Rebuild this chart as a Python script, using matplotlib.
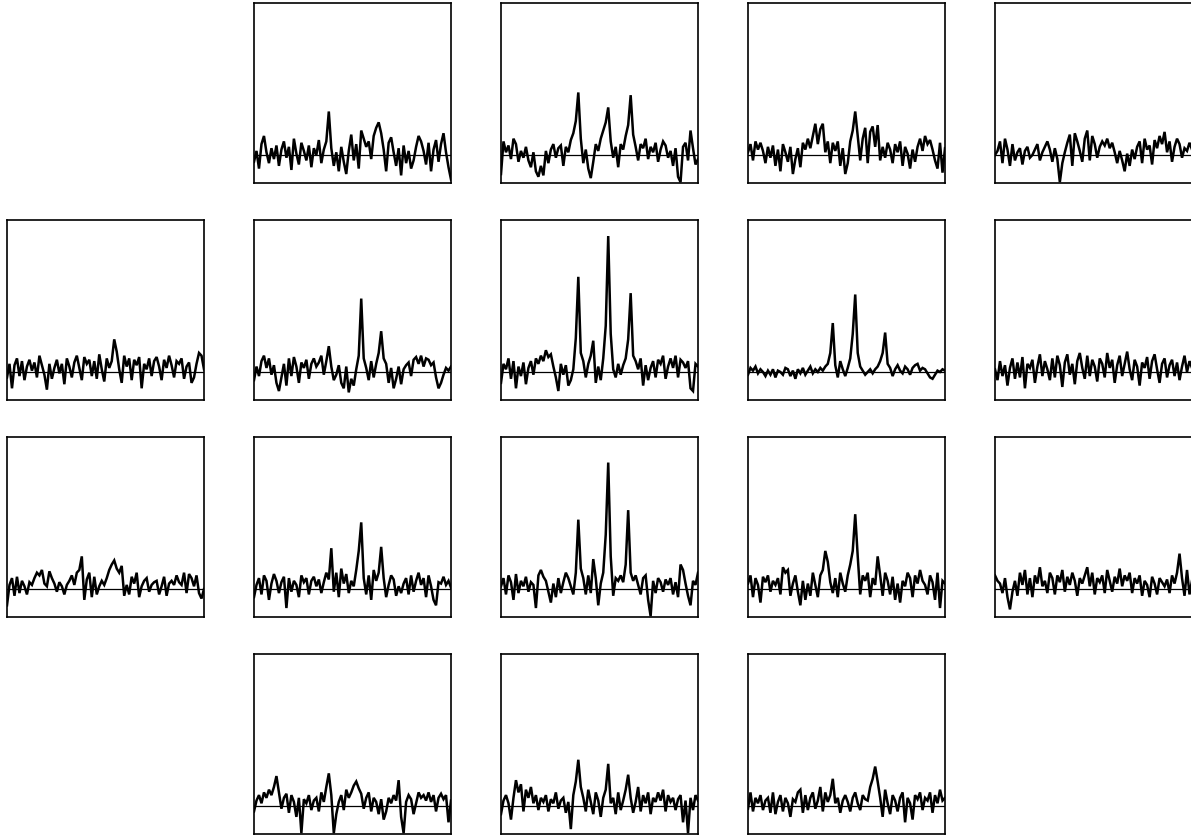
import numpy as np
import matplotlib
matplotlib.use("Agg")
import matplotlib.pyplot as plt

# grid slots (row, col) that hold a spectrum
slots = [(0, 1), (0, 2), (0, 3), (0, 4),
         (1, 0), (1, 1), (1, 2), (1, 3), (1, 4),
         (2, 0), (2, 1), (2, 2), (2, 3), (2, 4),
         (3, 1), (3, 2), (3, 3)]

# spectra (intensity, arbitrary units; 100 = strongest peak)
p01 = [-5, 3, -10, 8, 14, 2, -6, 5, -3, 7, -8, 4, 10, -2, 6, -11, 12, 1, -7, 9,
       3, -4, 7, -9, 5, 0, 11, -6, 4, 10, 32, 5, -8, 2, -12, 6, -5, -14, 3, 15,
       -4, 8, -10, 18, 12, 6, 10, -3, 14, 20, 24, 16, 4, -12, 9, 13, 2, -8, 5, -15,
       7, -6, 3, -10, -4, 6, 14, 10, 3, -7, 9, -12, 4, 11, -5, 8, 16, 2, -9, -18]
p02 = [-14, 10, 2, 7, -3, 12, 8, -5, 3, -2, 6, -4, -9, 2, -12, -16, -8, -15, 3, -6,
       4, 8, -2, 5, 7, -8, 6, 2, 11, 16, 25, 46, 12, -6, 4, -10, -17, -5, 8, 3,
       12, 18, 24, 35, 10, -2, 6, -9, 8, 4, 14, 22, 44, 15, 6, -4, 8, 5, 12, -3,
       6, 2, 9, -5, 4, 10, 7, -2, 3, -8, 5, -16, -20, 6, 9, -4, 18, 5, -7, -3]
p03 = [2, 8, -4, 10, 4, 9, 3, -6, 6, -2, 7, -8, 4, -12, 8, 2, -5, 6, -14, -3,
       5, -9, 9, 4, 12, 5, 14, 23, 8, 19, 23, 2, 10, -6, 9, 3, 10, -8, 5, -14,
       -6, 10, 18, 32, 14, -4, 12, 20, -6, 17, 21, 6, 22, -4, 6, -2, 9, 4, -6, 8,
       2, 10, -8, 6, 1, -10, 4, -5, 6, 12, 3, 14, 8, 11, 4, -4, -10, 9, -13, 5]
p04 = [0, 3, 10, -6, 12, 4, -8, 8, -4, 2, 5, -7, 3, 6, -2, 0, 4, 8, -4, 2,
       6, 10, 4, -5, 5, -3, -20, -6, 2, 9, 15, -8, 16, 10, 3, -5, 12, 18, -4, 14,
       8, -2, 6, 10, 7, 12, 5, 9, 2, -6, 3, -4, -12, 1, -8, 4, -3, 6, 10, -6,
       12, 4, 7, -7, 11, 5, 14, 8, 17, 2, 10, -5, 6, 12, 8, -2, 5, 3, 9, 4]
p10 = [-4, 6, -12, 5, 10, -3, 8, -6, 4, 9, 1, 7, -4, 12, 5, -2, -13, 6, -5, 3,
       9, -1, 6, -9, 10, 4, -4, 7, 12, 3, -6, 11, 6, 9, -3, 8, -5, 13, 2, -7,
       10, 3, 8, 24, 15, 2, -8, 12, 4, 10, -6, 9, 5, 11, -12, 6, 2, 10, -3, 8,
       11, 4, -6, 9, 3, 12, 5, -4, 8, 6, 10, -5, 4, 7, -8, -4, 6, 14, 12, 2]
p11 = [-6, 4, -3, 8, 12, 3, 10, -2, 5, -8, -14, -4, 6, -10, 10, -3, 11, 4, -8, 7,
       3, 9, -5, 6, 10, 4, 7, 12, -2, 8, 19, 4, -6, -2, 5, -8, -12, 4, -15, -5,
       -10, 2, 12, 54, 10, 3, -6, 8, -4, 6, 14, 30, 10, 6, -8, 3, -12, -5, 4, -9,
       2, 5, 7, -3, 9, 11, 6, 12, 4, 10, 9, 5, 7, -4, -12, -8, -2, 3, 1, 4]
p12 = [-8, 6, 2, 10, -5, 8, -12, 4, -3, 7, -9, 3, 8, -2, 10, 6, 12, 8, 16, 11,
       13, 4, -4, -14, 6, -2, 5, -10, -6, 2, 25, 70, 14, 8, -4, 6, 12, 23, -8, 4,
       -6, 10, 34, 100, 28, 2, -4, 6, -2, 5, 10, 24, 58, 12, 8, 2, 10, -10, 5, -6,
       3, 8, -4, 9, 6, 12, -5, 4, 10, 3, 12, -4, 9, 7, 3, 8, -12, -14, 6, 4]
p13 = [-2, 3, 1, 4, -1, 2, 0, -3, 1, -2, 2, -4, 1, 0, -2, 3, 2, -3, 1, -5,
       2, -1, 3, -2, 1, 4, -1, 2, 0, 3, 1, 4, 6, 14, 36, 5, -4, 8, 2, -3,
       3, 10, 28, 57, 14, 4, 1, -2, 0, 2, -1, 2, 4, 8, 14, 29, 6, 3, -3, 2,
       5, 1, -1, 4, 2, -2, 3, 5, 6, 1, 3, 2, -1, -4, -5, -2, 1, 0, 2, 1]
p14 = [2, -6, 8, -3, 5, -10, 3, 10, -5, 7, -4, 11, -12, 6, 3, 9, -8, 4, 13, -3,
       8, 2, -6, 10, -4, 12, 5, -11, 7, 13, -2, 6, -9, 8, 14, 3, -5, 12, -3, 9,
       4, -7, 10, 6, -4, 14, 3, 9, -8, 5, 12, -3, 6, 15, 2, -6, 9, 4, -10, 7,
       3, 11, -5, 8, 13, 2, -8, 6, 10, -4, 5, 9, -3, 7, -6, 4, 12, 0, 8, 3]
p20 = [-12, 3, 8, -5, 9, -3, 6, 2, -4, 5, 3, 8, 12, 10, 14, 4, 2, 13, 8, 4,
       -2, 5, 2, -4, 3, 6, 10, 3, 12, 14, 24, -8, 7, 12, -6, 9, -4, 2, 6, 3,
       8, 14, 18, 21, 15, 12, 17, -5, 3, -4, 9, 4, 12, -6, 2, 6, 8, -2, 3, 5,
       6, -4, 2, 9, -5, 4, 6, 3, 10, 5, 3, 12, -3, 11, 8, 2, 10, -3, -7, 0]
p21 = [-6, 3, 8, -4, 10, 6, -8, 4, 11, 6, -3, 5, 9, -14, 8, -2, 6, 3, -6, 10,
       5, 8, -4, 6, 9, 2, 7, -3, 5, 12, 7, 30, -2, 12, -6, 15, 4, 11, -3, 6,
       2, 14, 28, 49, 8, -4, 10, -8, 14, 6, 12, 31, 8, -6, 3, 10, 7, -5, 2, -3,
       4, 8, -4, 10, -2, 6, 12, 3, 8, -6, 10, 2, -8, -12, 5, 4, 9, 3, 6, 1]
p22 = [2, 8, -4, 10, 5, -8, 11, -3, 6, 2, 9, -2, 5, 3, -14, 10, 14, 9, 6, -2,
       -10, 4, -6, 8, -3, 5, 12, 8, 2, -4, 12, 51, 15, 8, -4, 10, -3, 22, 8, -12,
       4, 12, 40, 93, 24, -5, 8, 6, 10, 5, 18, 58, 12, 6, 10, 3, -4, 8, 10, -8,
       -20, 6, -3, 8, 5, -2, 7, 3, 8, -4, 5, -6, 18, 14, 4, -5, -12, 6, 3, 12]
p23 = [4, 10, -6, 8, 3, -10, 9, 5, 10, -2, 6, 3, 8, -4, 16, 12, 14, -5, 4, 10,
       -2, -12, 6, -8, 4, -5, 12, 3, -6, 10, 14, 28, 20, 5, -3, 8, -6, 12, 4, -2,
       10, 18, 28, 55, 24, -4, 10, 6, 12, -6, 8, 3, 24, 10, -5, 12, 6, -4, 9, -8,
       4, -10, 6, 2, 12, 8, -6, 10, 4, 14, 6, 3, -4, 10, 5, -8, 12, -14, 6, 4]
p24 = [10, 6, 4, -3, 8, -6, -15, -2, 6, -5, 12, 3, 14, -4, 8, -6, 10, 4, 16, 2,
       6, -3, 12, 8, -4, 10, 5, 14, -2, 9, 3, 12, 6, -5, 8, 4, 10, 16, 2, 12,
       -4, 8, 5, 10, -3, 14, 6, -2, 9, 4, 15, 2, 10, 6, 12, -3, 8, 4, 10, -5,
       6, 3, -6, 9, 4, -4, 8, 5, 2, 7, -3, 10, 4, 12, 26, 8, -5, 14, -4, 6]
p31 = [-4, 4, 8, 2, 10, 6, 12, 8, 14, 22, 10, -2, 6, 9, -5, 8, 3, -8, 6, -20,
       5, 2, 8, -3, 4, 6, -4, 10, 3, 14, 24, 8, -20, -6, 3, 8, -3, 12, 6, 10,
       15, 18, 13, 9, -2, 6, 10, -4, 6, 3, -6, 5, -10, -4, 6, 2, 8, 4, 19, -8,
       -20, 3, 8, 5, -6, 2, 10, 6, 8, 4, 10, 3, 8, -4, 6, 9, 5, 8, -12, 4]
p32 = [-6, 4, 8, 2, -10, 6, 19, 10, 16, -4, 12, 6, 14, 2, 8, -3, 6, 3, 8, -4,
       5, 2, 10, -2, 4, 6, -5, 3, -17, 8, 18, 34, 14, 6, -4, 12, 3, -6, 10, 4,
       -8, 6, 12, 31, 2, 6, -6, 10, -3, 4, 12, 23, 6, -5, 3, 14, -4, 8, 2, 10,
       -6, 6, 3, 10, 4, 12, -4, 8, 3, 6, -3, 5, 8, -12, 4, -20, 6, -3, 8, 4]
p33 = [-2, 10, -4, 6, 2, 8, -3, 4, 6, -5, 10, -6, 3, 8, -4, 6, 2, -8, 5, 3,
       10, 12, -5, 8, -3, 6, 10, -2, 4, 14, -4, 10, 3, 8, 20, 2, 6, -5, 4, 8,
       3, -4, 6, 10, 2, -3, 8, 5, 4, 14, 20, 29, 18, 6, -8, 12, 2, -6, 8, 4,
       -4, 6, 10, -12, 6, 2, -10, 8, 5, 10, -3, 6, 4, 10, -5, 8, 2, 12, 4, 6]

spectra = [p01, p02, p03, p04, p10, p11, p12, p13, p14,
           p20, p21, p22, p23, p24, p31, p32, p33]

W, H = 1191, 837
fig = plt.figure(figsize=(W / 100, H / 100), dpi=100)
col_left = [7, 254, 501, 748, 995]
row_top = [4, 221, 438, 655]
aw, ah = 197, 180

for (r, c), spec in zip(slots, spectra):
    x0 = col_left[c]
    y0 = row_top[r]
    ax = fig.add_axes([x0 / W, 1 - (y0 + ah) / H, aw / W, ah / H])
    y = np.asarray(spec, dtype=float)
    ch = np.arange(len(y))
    ax.axhline(0, color="black", lw=0.9, zorder=1)
    ax.plot(ch, y, color="black", lw=1.8, zorder=2, solid_joinstyle="miter")
    ax.set_xlim(0, len(y) - 1)
    ax.set_ylim(-20.6, 111.8)
    ax.set_xticks([])
    ax.set_yticks([])
    for s in ax.spines.values():
        s.set_linewidth(1.2)
        s.set_color("black")

fig.savefig("out.png", dpi=100)
